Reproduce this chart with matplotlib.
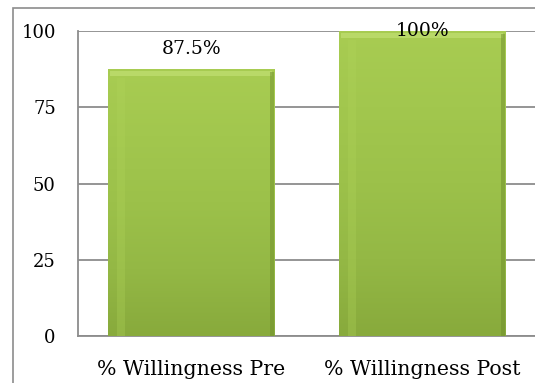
import numpy as np
import matplotlib.pyplot as plt
from matplotlib.colors import LinearSegmentedColormap
from matplotlib.patches import Rectangle

categories = ['% Willingness Pre', '% Willingness Post']
values = [87.5, 100]
value_labels = ['87.5%', '100%']
yticks = [0, 25, 50, 75, 100]

plt.rcParams['font.family'] = ['DejaVu Serif']

fig = plt.figure(figsize=(5.35, 3.83), dpi=100)
fig.patch.set_facecolor('white')

# outer chart border (cropped on right and bottom)
fig.patches.append(Rectangle((13 / 535, -0.05), 1.2, 1 - 8 / 383 + 0.05,
                             transform=fig.transFigure, fill=False,
                             edgecolor='#8c8c8c', linewidth=1.2))

ax = fig.add_axes([78 / 535, 1 - 336 / 383, 462 / 535, 305 / 383])

x = np.arange(len(categories))
bars = ax.bar(x, values, width=0.72, color='#9bc04a', edgecolor='#7d9c35',
              linewidth=0.6, zorder=3)

# vertical shading on each bar
green = LinearSegmentedColormap.from_list(
    'bar_green', ['#88aa3c', '#94b845', '#9cc14a', '#a2c74e', '#a8cc52'])
grad = np.linspace(0, 1, 256).reshape(-1, 1)
for b in bars:
    x0, w, h = b.get_x(), b.get_width(), b.get_height()
    im = ax.imshow(grad, cmap=green, origin='lower', aspect='auto',
                   extent=(x0, x0 + w, 0, h), zorder=3.5)
    im.set_clip_path(b)
    # highlight along the top edge
    ax.add_patch(Rectangle((x0 + 0.01, h - 2.4), w - 0.02, 1.8,
                           facecolor='#c2df72', edgecolor='none',
                           alpha=0.7, zorder=4))
    # lighter stripe near the left, darker right edge
    ax.add_patch(Rectangle((x0 + 0.04, 0), 0.035, h - 3,
                           facecolor='#b0d45a', edgecolor='none',
                           alpha=0.3, zorder=4))
    ax.add_patch(Rectangle((x0 + w - 0.018, 0), 0.018, h - 1,
                           facecolor='#6f8f2c', edgecolor='none',
                           alpha=0.5, zorder=4))
ax.set_xlim(-0.49, 1.51)
ax.set_ylim(0, 100)

for xi, v, lab in zip(x, values, value_labels):
    ax.text(xi, min(v + 5, 98.3), lab, ha='center', va='baseline',
            fontsize=13.5, color='black', zorder=5)

ax.set_yticks(yticks)
ax.set_xticks(x)
ax.set_xticklabels(categories)
ax.tick_params(axis='both', length=0, colors='black')
ax.tick_params(axis='y', pad=16, labelsize=13)
ax.tick_params(axis='x', pad=17, labelsize=14.8)

ax.yaxis.grid(True, color='#8c8c8c', linewidth=1.3, zorder=0)
ax.set_axisbelow(True)
for s in ['top', 'right']:
    ax.spines[s].set_visible(False)
for s in ['left', 'bottom']:
    ax.spines[s].set_color('#8c8c8c')
    ax.spines[s].set_linewidth(1.3)

fig.savefig('out.png', dpi=100)
